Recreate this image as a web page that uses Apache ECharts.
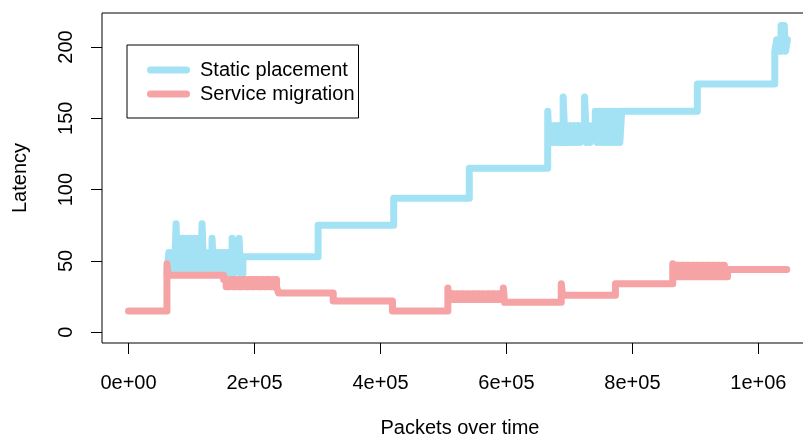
<!DOCTYPE html>
<html>
<head>
<meta charset="utf-8">
<script src="https://cdn.jsdelivr.net/npm/echarts@6/dist/echarts.min.js"></script>
<style>
  html, body { margin: 0; padding: 0; background: #fff; }
  #chart { width: 803px; height: 436px; }
</style>
</head>
<body>
<div id="chart"></div>
<script>
// Static placement: packets (x) and latency (y), drawn as a step line
const staticX = [
  61000, 64000, 67000, 70000, 73000, 75500, 78000, 81500, 84000, 87000,
  90000, 93000, 96000, 99000, 102000, 105000, 108000, 111000, 114000, 116800,
  119500, 122000, 125000, 128000, 132600, 135000, 138000, 141000, 144000, 147000,
  150000, 153000, 156000, 159000, 164400, 167000, 170000, 175500, 178000, 181500,
  301000, 421000, 541000,
  665500, 668000, 671000, 674000, 677000, 680000, 683000, 686000, 690000, 693000,
  696000, 699000, 702000, 705000, 708000, 711000, 714000, 717000, 720000, 724000,
  727000, 730000, 733000, 736000, 741000, 744000, 747000, 750000, 753000, 756000,
  759000, 762000, 765000, 768000, 771000, 774000, 777000, 780000, 783000,
  903000,
  1026000, 1029000, 1032000, 1036000, 1039000, 1041000, 1043000, 1046000
];
const staticY = [
  41, 56, 41, 56, 41, 76, 41, 66, 41, 66,
  41, 66, 41, 66, 41, 66, 41, 66, 41, 76,
  41, 56, 41, 56, 66, 41, 56, 41, 56, 41,
  56, 41, 56, 41, 66, 41, 56, 66, 41, 53,
  75, 94, 115,
  155, 133, 145, 133, 145, 133, 145, 133, 165, 133,
  145, 133, 145, 133, 145, 133, 145, 133, 145, 165,
  133, 145, 133, 145, 155, 133, 155, 133, 155, 133,
  155, 133, 155, 133, 155, 133, 155, 133, 155,
  174,
  197, 205, 197, 215, 205, 215, 197, 205
];

// Service migration
const migrationX = [
  0, 61000, 62500,
  151000, 155000, 160000, 165000, 170000, 175000, 180000, 185000, 190000, 195000,
  200000, 205000, 210000, 215000, 220000, 225000, 230000, 235000,
  238000, 325000, 419000,
  507000, 509000, 513000, 517000, 521000, 525000, 529000, 533000, 537000, 541000,
  545000, 549000, 553000, 557000, 561000, 565000, 569000, 573000, 577000, 581000,
  585000, 589000, 595000,
  597000, 687000, 689000, 773000,
  864000, 866000, 870000, 874000, 878000, 882000, 886000, 890000, 894000, 898000,
  902000, 906000, 910000, 914000, 918000, 922000, 926000, 930000, 934000, 938000,
  942000, 946000,
  951000, 1045000
];
const migrationY = [
  15, 48, 40,
  37, 32, 37, 32, 37, 32, 37, 32, 37, 32,
  37, 32, 37, 32, 37, 32, 37, 32,
  27.5, 22, 15,
  31, 23, 27, 23, 27, 23, 27, 23, 27, 23,
  27, 23, 27, 23, 27, 23, 27, 23, 27, 23,
  27, 23, 31,
  21, 34, 26, 34,
  48, 39, 47, 39, 47, 39, 47, 39, 47, 39,
  47, 39, 47, 39, 47, 39, 47, 39, 47, 39,
  47, 39,
  44, 44
];

const xTickValues = [0, 200000, 400000, 600000, 800000, 1000000];
const xTickLabels = ['0e+00', '2e+05', '4e+05', '6e+05', '8e+05', '1e+06'];
const yTickValues = [0, 50, 100, 150, 200];

const FONT = '"Liberation Sans", Arial, Helvetica, sans-serif';
const FONT_SIZE = 20;
const BLUE = '#a3e2f4';
const PINK = '#f5a3a4';

const zip = (xs, ys) => xs.map((x, i) => [x, ys[i]]);

const chart = echarts.init(document.getElementById('chart'), null, { renderer: 'canvas' });

const stepSeries = (name, data, color) => ({
  name: name,
  type: 'line',
  step: 'end',
  data: data,
  symbol: 'none',
  showSymbol: false,
  silent: true,
  lineStyle: { color: color, width: 7, cap: 'round', join: 'round' },
  itemStyle: { color: color }
});

const text = { fontSize: FONT_SIZE, color: '#000', fontFamily: FONT };

chart.setOption({
  animation: false,
  backgroundColor: '#fff',
  textStyle: { fontFamily: FONT },
  // the plot box runs past the right edge of the picture, as in the original
  grid: {
    left: 102,
    top: 13,
    width: 716,
    height: 330,
    outerBoundsMode: 'none',
    containLabel: false,
    show: true,
    borderColor: '#000',
    borderWidth: 1,
    backgroundColor: 'transparent'
  },
  legend: {
    data: ['Static placement', 'Service migration'],
    orient: 'vertical',
    left: 127,
    top: 45,
    icon: 'path://M3.5 0H39.5A3.5 3.5 0 0 1 39.5 7H3.5A3.5 3.5 0 0 1 3.5 0Z',
    itemWidth: 43,
    itemHeight: 7,
    itemGap: 4,
    padding: [15, 4, 14, 20],
    borderColor: '#000',
    borderWidth: 1,
    borderRadius: 0,
    backgroundColor: '#fff',
    textStyle: Object.assign({ padding: [0, 0, 0, 5] }, text)
  },
  xAxis: {
    type: 'value',
    min: -42100,
    max: 1094600,
    name: 'Packets over time',
    nameLocation: 'middle',
    nameGap: 75,
    nameTextStyle: text,
    axisLine: { show: false, onZero: false },
    splitLine: { show: false },
    axisTick: {
      show: true,
      length: 11,
      customValues: xTickValues,
      lineStyle: { color: '#000', width: 1 }
    },
    axisLabel: Object.assign({
      customValues: xTickValues,
      formatter: (v) => xTickLabels[xTickValues.indexOf(v)],
      margin: 30
    }, text)
  },
  yAxis: {
    type: 'value',
    min: -7.5,
    max: 223.8,
    name: 'Latency',
    nameLocation: 'middle',
    nameRotate: 90,
    nameGap: 72,
    nameTextStyle: text,
    axisLine: { show: false, onZero: false },
    splitLine: { show: false },
    axisTick: {
      show: true,
      length: 11,
      customValues: yTickValues,
      lineStyle: { color: '#000', width: 1 }
    },
    axisLabel: Object.assign({
      customValues: yTickValues,
      rotate: 90,
      margin: 26
    }, text)
  },
  series: [
    stepSeries('Static placement', zip(staticX, staticY), BLUE),
    stepSeries('Service migration', zip(migrationX, migrationY), PINK)
  ]
});
</script>
</body>
</html>
